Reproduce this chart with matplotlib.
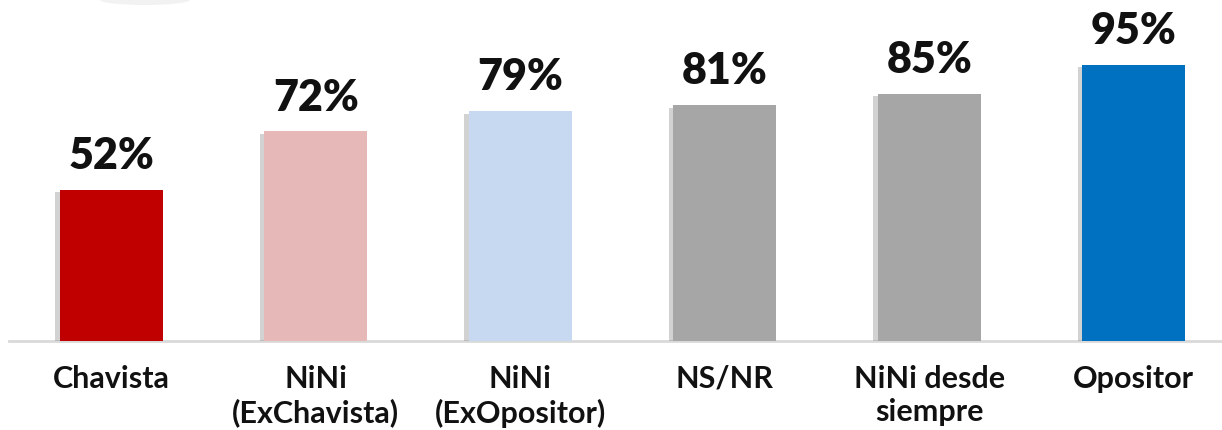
import matplotlib
matplotlib.use("Agg")
import matplotlib.pyplot as plt
import matplotlib.patheffects as pe
from matplotlib.patches import Ellipse

categories = ["Chavista", "NiNi\n(ExChavista)", "NiNi\n(ExOpositor)", "NS/NR", "NiNi desde\nsiempre", "Opositor"]
values = [52, 72, 79, 81, 85, 95]
colors = ["#C00000", "#E6B9B8", "#C6D9F1", "#A6A6A6", "#A6A6A6", "#0070C0"]

plt.rcParams['font.family'] = ['Lato', 'DejaVu Sans']

fig = plt.figure(figsize=(12.22, 4.30), dpi=100)
ax = fig.add_axes([9/1222, 89/430, 1227/1222, 291/430])
x = list(range(len(categories)))
bars = ax.bar(x, values, width=0.505, color=colors, zorder=3)
for b in bars:
    b.set_path_effects([pe.SimplePatchShadow(offset=(-3, -2), shadow_rgbFace="#808080", alpha=0.35), pe.Normal()])

for xi, v in zip(x, values):
    ax.annotate(f"{v}%", (xi, v), xytext=(0, 10), textcoords="offset points",
                ha="center", va="bottom", fontsize=31, fontweight="heavy", color="#111111")

ax.set_xlim(-0.5, 5.5)
ax.set_ylim(0, 100)
ax.set_yticks([])
ax.set_xticks(x)
ax.set_xticklabels(categories, fontsize=22, fontweight="bold", color="#111111", linespacing=1.25)
ax.tick_params(axis="x", length=0, pad=17)
for s in ["top", "right", "left"]:
    ax.spines[s].set_visible(False)
ax.spines["bottom"].set_color("#D9D9D9")
ax.spines["bottom"].set_linewidth(2)
ax.spines["bottom"].set_zorder(2)

# faint decorative shadow arc at top-left
ell = Ellipse((145/1222, 1.0), 90/1222, 10/430, transform=fig.transFigure,
              facecolor="#F2F2F2", edgecolor="none", zorder=0)
fig.patches.append(ell)

fig.savefig("out.png", dpi=100)
